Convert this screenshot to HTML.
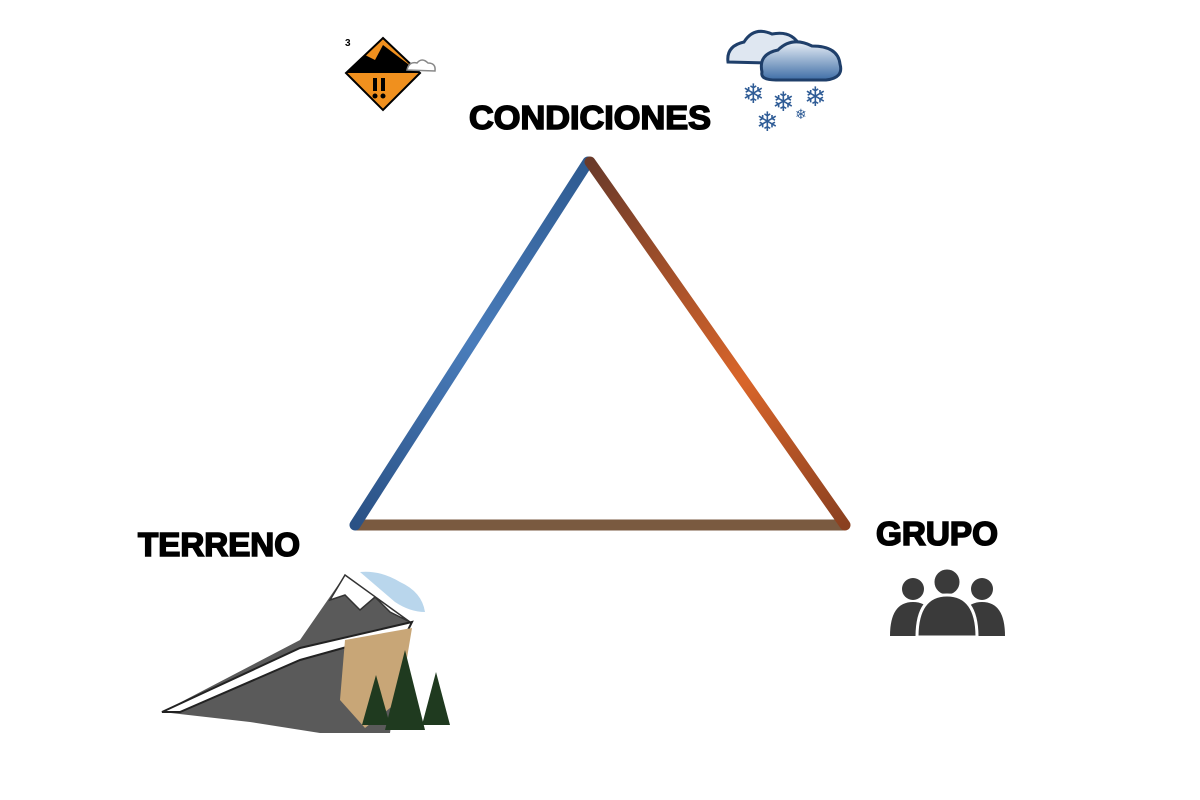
<!DOCTYPE html>
<html><head><meta charset="utf-8"><style>html,body{margin:0;padding:0;background:#fff;width:1200px;height:800px;overflow:hidden}</style></head>
<body>
<svg width="1200" height="800" viewBox="0 0 1200 800" xmlns="http://www.w3.org/2000/svg">
<defs>
<linearGradient id="gl" x1="355" y1="525" x2="590" y2="162" gradientUnits="userSpaceOnUse">
<stop offset="0" stop-color="#2a5185"/><stop offset="0.5" stop-color="#4a7dbb"/><stop offset="1" stop-color="#2e5a90"/></linearGradient>
<linearGradient id="gr" x1="590" y1="162" x2="845" y2="525" gradientUnits="userSpaceOnUse">
<stop offset="0" stop-color="#6a3a2a"/><stop offset="0.6" stop-color="#d9652a"/><stop offset="1" stop-color="#8a4020"/></linearGradient>
<linearGradient id="cl" x1="0" y1="0" x2="0" y2="1"><stop offset="0" stop-color="#e8eef6"/><stop offset="1" stop-color="#3f6ea6"/></linearGradient>
</defs>
<g fill="none" stroke-width="11" stroke-linecap="round">
<line x1="357" y1="525" x2="843" y2="525" stroke="#7a5a40"/>
<line x1="355" y1="525" x2="588" y2="162" stroke="url(#gl)"/>
<line x1="590" y1="162" x2="845" y2="525" stroke="url(#gr)"/>
</g>
<g font-family="Liberation Sans, sans-serif" font-weight="bold" fill="#000" stroke="#000" stroke-width="1.6">
<text x="469" y="129" font-size="33" textLength="242" lengthAdjust="spacingAndGlyphs">CONDICIONES</text>
<text x="138" y="556" font-size="33" textLength="162" lengthAdjust="spacingAndGlyphs">TERRENO</text>
<text x="876" y="545" font-size="33" textLength="122" lengthAdjust="spacingAndGlyphs">GRUPO</text>
</g>
<text x="345" y="46" font-size="10" font-family="Liberation Sans, sans-serif" font-weight="bold">3</text>
<!-- avalanche icon -->
<polygon points="383,38 420,73 383,110 346,73" fill="#f0901e" stroke="#000" stroke-width="2"/>
<polygon points="347,73 365,55 375,60 383,45 400,58 420,73" fill="#000"/>
<rect x="373" y="78" width="4" height="13" fill="#000"/><rect x="381" y="78" width="4" height="13" fill="#000"/>
<circle cx="375" cy="96" r="2.5"/><circle cx="383" cy="96" r="2.5"/>
<path d="M407,70 q2,-9 10,-7 q5,-6 11,0 q8,0 7,8 z" fill="#fff" stroke="#888" stroke-width="1.5"/>
<!-- snow cloud -->
<path d="M728,62 q-2,-16 16,-20 q10,-16 28,-8 q20,-4 28,12 q14,4 10,18 z" fill="#dfe7f1" stroke="#1f3f6a" stroke-width="3"/>
<path d="M762,72 q-4,-18 16,-22 q14,-14 34,-4 q26,0 28,18 q4,14 -14,16 l-50,0 q-16,0 -14,-8 z" fill="url(#cl)" stroke="#1f3f6a" stroke-width="3"/>
<g fill="#2f5c96" font-family="DejaVu Sans, sans-serif" font-size="27">
<text x="742" y="103">❄</text><text x="772" y="111">❄</text><text x="804" y="106">❄</text><text x="756" y="131">❄</text><text x="795" y="119" font-size="14">❄</text>
</g>
<!-- people -->
<g fill="#3a3a3a">
<circle cx="913" cy="589" r="11"/><path d="M890,636 q0,-34 23,-34 q23,0 23,34 z"/>
<circle cx="982" cy="589" r="11"/><path d="M959,636 q0,-34 23,-34 q23,0 23,34 z"/>
<circle cx="947" cy="582" r="14" stroke="#fff" stroke-width="3"/><path d="M917,637 q0,-42 30,-42 q30,0 30,42 z" stroke="#fff" stroke-width="3"/>
</g>
<!-- mountain -->
<path d="M162,712 L300,640 L345,575 L372,595 L410,622 L400,660 L390,733 L320,733 L250,722 z" fill="#5a5a5a"/>
<path d="M345,575 L330,600 L345,595 L360,610 L375,597 L390,612 L410,622 z" fill="#fff" stroke="#333" stroke-width="1.5"/>
<path d="M360,572 q20,-2 40,10 q22,10 25,30 q-15,0 -30,-10 z" fill="#b9d6ec"/>
<path d="M162,712 L300,648 L412,622 L408,630 L300,660 L180,712 z" fill="#fff" stroke="#222" stroke-width="2"/>
<path d="M345,640 L412,628 L400,700 L365,728 L340,700 z" fill="#c8a677"/>
<g fill="#1f3a1f">
<polygon points="376,675 362,725 390,725"/><polygon points="405,650 385,730 425,730"/><polygon points="436,672 422,725 450,725"/>
</g>
</svg>
</body></html>
